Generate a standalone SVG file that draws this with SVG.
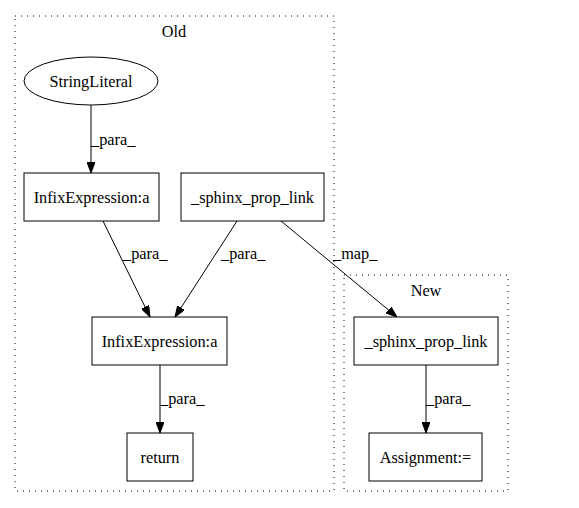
<svg xmlns="http://www.w3.org/2000/svg" width="579" height="508" viewBox="0 0 579 508">
<style>
.t{font-family:'Liberation Serif','DejaVu Serif',serif;font-size:16.3px;fill:#000}
.n{fill:#fff;stroke:#000;stroke-width:1}
.c{fill:none;stroke:#000;stroke-width:1;stroke-dasharray:1,5}
.e{fill:none;stroke:#000;stroke-width:1}
.m{text-anchor:middle}
</style>
<defs>
<marker id="a" markerWidth="11" markerHeight="8" refX="11" refY="4" orient="auto" markerUnits="userSpaceOnUse">
<path d="M0,0 L11,4 L0,8 Z" fill="#000" stroke="#000"/>
</marker>
</defs>
<rect width="579" height="508" fill="#fff"/>
<g id="cluster_old">
<rect class="c" x="15" y="16" width="319" height="475"/>
<text class="t m" x="174" y="37">Old</text>
</g>
<g id="cluster_new">
<rect class="c" x="344" y="275" width="164" height="216"/>
<text class="t m" x="426" y="296">New</text>
</g>
<g id="connectors">
<path class="e" d="M91,105 L91,173" marker-end="url(#a)"/>
<text class="t" x="91" y="145">_para_</text>
<path class="e" d="M103,221 L150,317" marker-end="url(#a)"/>
<text class="t" x="123" y="259">_para_</text>
<path class="e" d="M237,221 L175,317" marker-end="url(#a)"/>
<text class="t" x="221" y="259">_para_</text>
<path class="e" d="M281,221 L397,317" marker-end="url(#a)"/>
<text class="t" x="333" y="259">_map_</text>
<path class="e" d="M160,365 L160,433" marker-end="url(#a)"/>
<text class="t" x="160" y="404">_para_</text>
<path class="e" d="M426,365 L426,433" marker-end="url(#a)"/>
<text class="t" x="426" y="404">_para_</text>
</g>
<g id="stringliteral">
<ellipse class="n" cx="91" cy="81" rx="67" ry="24"/>
<text class="t m" x="91" y="87">StringLiteral</text>
</g>
<g id="infix1">
<rect class="n" x="24" y="173" width="135" height="48"/>
<text class="t m" x="91.5" y="203">InfixExpression:a</text>
</g>
<g id="sphinx_old">
<rect class="n" x="181" y="173" width="143" height="48"/>
<text class="t m" x="252.5" y="203">_sphinx_prop_link</text>
</g>
<g id="infix2">
<rect class="n" x="92" y="317" width="135" height="48"/>
<text class="t m" x="159.5" y="347">InfixExpression:a</text>
</g>
<g id="return">
<rect class="n" x="127" y="433" width="66" height="48"/>
<text class="t m" x="160" y="463">return</text>
</g>
<g id="sphinx_new">
<rect class="n" x="354" y="317" width="144" height="48"/>
<text class="t m" x="426" y="347">_sphinx_prop_link</text>
</g>
<g id="assignment">
<rect class="n" x="369" y="433" width="113" height="48"/>
<text class="t m" x="425.5" y="463">Assignment:=</text>
</g>
</svg>
